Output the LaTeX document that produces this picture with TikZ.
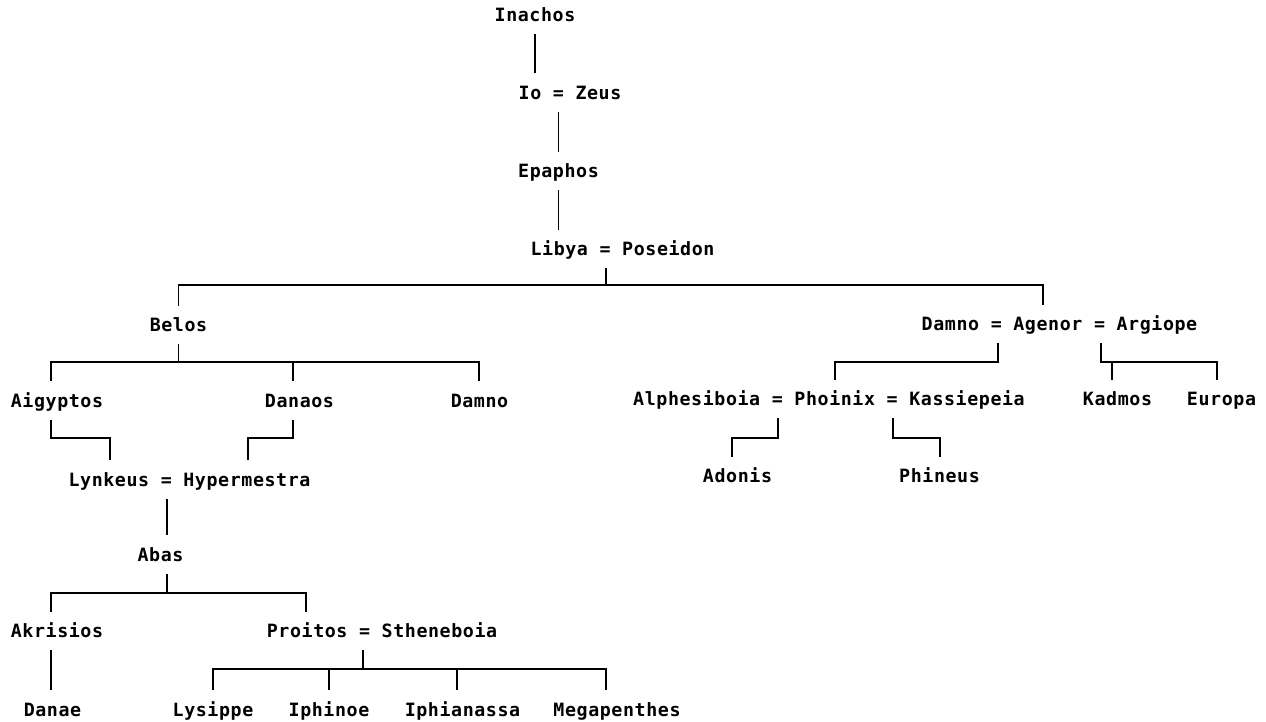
\documentclass[tikz,border=0pt]{standalone}
\usepackage{fontspec}
\newfontfamily\gfont{DejaVu Sans Mono}[LetterSpace=3.2]
\tikzset{
  person/.style={font=\gfont\bfseries\fontsize{18.3}{20}\selectfont, text height=13.3pt, text depth=0pt,
    inner xsep=0pt, inner ysep=12.4pt, outer sep=0pt, anchor=center},
  link/.style={line width=1.1pt, black}
}
\begin{document}
\begin{tikzpicture}[x=1pt,y=-1pt]
\useasboundingbox (0,0) rectangle (1266,721);
% nodes
\node[person] (inachos) at (535,15) {Inachos};
\node[person] (iozeus) at (570,92.5) {Io = Zeus};
\node[person] (epaphos) at (558.5,171) {Epaphos};
\node[person] (libya) at (622.5,249) {Libya = Poseidon};
\node[person] (belos) at (178.5,325) {Belos};
\node[person] (agenor) at (1059.5,324) {Damno = Agenor = Argiope};
\node[person] (aigyptos) at (57,400.5) {Aigyptos};
\node[person] (danaos) at (299.5,400.5) {Danaos};
\node[person] (damno) at (479.5,400.5) {Damno};
\node[person] (alph) at (829,399) {Alphesiboia = Phoinix = Kassiepeia};
\node[person] (kadmos) at (1117.5,399) {Kadmos};
\node[person] (europa) at (1221.5,399) {Europa};
\node[person] (lynkeus) at (189.5,479.5) {Lynkeus = Hypermestra};
\node[person] (adonis) at (737.5,476) {Adonis};
\node[person] (phineus) at (939.5,476) {Phineus};
\node[person] (abas) at (160.5,554.5) {Abas};
\node[person] (akrisios) at (57,631) {Akrisios};
\node[person] (proitos) at (382,631) {Proitos = Stheneboia};
\node[person] (danae) at (52.5,709.5) {Danae};
\node[person] (lysippe) at (213,709.5) {Lysippe};
\node[person] (iphinoe) at (329,709.5) {Iphinoe};
\node[person] (iphianassa) at (462.5,709.5) {Iphianassa};
\node[person] (megapenthes) at (617,709.5) {Megapenthes};
% junction coordinates
\coordinate (lib) at (606,285);
\coordinate (libr) at (1043,285);
\coordinate (b2l) at (51,362);
\coordinate (b2m) at (293,362);
\coordinate (b2r) at (479,362);
\coordinate (ag1) at (998,362);
\coordinate (ag2) at (835,362);
\coordinate (ar1) at (1101,362);
\coordinate (ar2) at (1217,362);
\coordinate (ar3) at (1112,362);
\coordinate (ai1) at (51,438);
\coordinate (ai2) at (110,438);
\coordinate (da1) at (293,438);
\coordinate (da2) at (248,438);
\coordinate (al1) at (778,438);
\coordinate (al2) at (732,438);
\coordinate (ph1) at (893,438);
\coordinate (ph2) at (940,438);
\coordinate (abx) at (167,593);
\coordinate (abl) at (51,593);
\coordinate (abr) at (306,593);
\coordinate (pr) at (363,669);
\coordinate (p1) at (213,669);
\coordinate (p2) at (329,669);
\coordinate (p3) at (457,669);
\coordinate (p4) at (606,669);
% connectors
\draw[link] (inachos.south) -- (inachos.south |- iozeus.north);
\draw[link] (epaphos.north) -- (epaphos.north |- iozeus.south);
\draw[link] (epaphos.south) -- (epaphos.south |- libya.north);
\draw[link] (libya.south -| lib) -- (lib);
\draw[link] (belos.north) |- (libr) -- (libr |- agenor.north);
\draw[link] (belos.south) -- (belos.south |- b2l);
\draw[link] (aigyptos.north -| b2l) -- (b2l) -- (b2r) -- (damno.north -| b2r);
\draw[link] (b2m) -- (danaos.north -| b2m);
\draw[link] (agenor.south -| ag1) -- (ag1) -- (ag2) -- (alph.north -| ag2);
\draw[link] (agenor.south -| ar1) -- (ar1) -- (ar2) -- (europa.north -| ar2);
\draw[link] (ar3) -- (kadmos.north -| ar3);
\draw[link] (aigyptos.south -| ai1) -- (ai1) -- (ai2) -- (lynkeus.north -| ai2);
\draw[link] (danaos.south -| da1) -- (da1) -- (da2) -- (lynkeus.north -| da2);
\draw[link] (alph.south -| al1) -- (al1) -- (al2) -- (adonis.north -| al2);
\draw[link] (alph.south -| ph1) -- (ph1) -- (ph2) -- (phineus.north -| ph2);
\draw[link] (lynkeus.south -| abx) -- (abas.north -| abx);
\draw[link] (abas.south -| abx) -- (abx);
\draw[link] (akrisios.north -| abl) -- (abl) -- (abr) -- (proitos.north -| abr);
\draw[link] (akrisios.south -| abl) -- (danae.north -| abl);
\draw[link] (proitos.south -| pr) -- (pr);
\draw[link] (lysippe.north -| p1) -- (p1) -- (p4) -- (megapenthes.north -| p4);
\draw[link] (p2) -- (iphinoe.north -| p2);
\draw[link] (p3) -- (iphianassa.north -| p3);
\end{tikzpicture}
\end{document}
